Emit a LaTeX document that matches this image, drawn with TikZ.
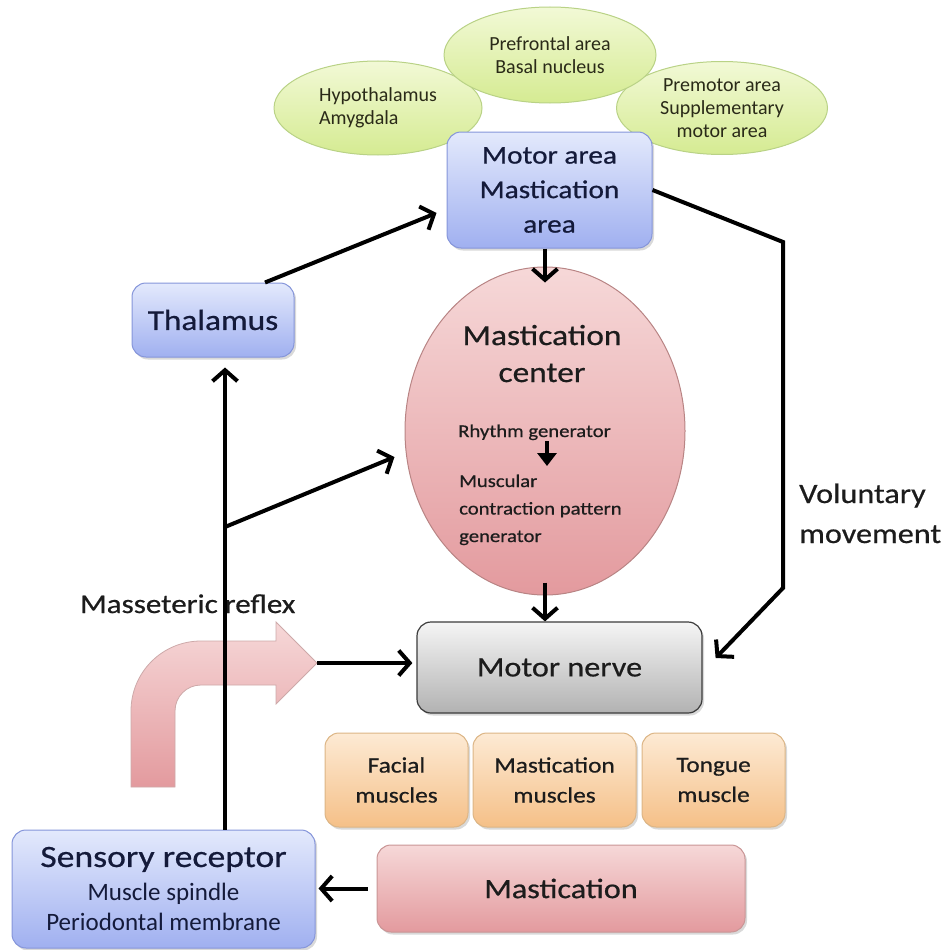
\documentclass[tikz,border=0pt]{standalone}
\usepackage{fontspec}
\setmainfont{Carlito}
\newfontfamily\wf[FakeStretch=1.15,FakeBold=0.6]{Carlito}
\usetikzlibrary{arrows.meta,shapes.geometric,shadows,calc}
\definecolor{grT}{HTML}{F2F9D6}
\definecolor{grB}{HTML}{D5EB92}
\definecolor{grD}{HTML}{B9D286}
\definecolor{blT}{HTML}{E3E9FC}
\definecolor{blB}{HTML}{A0B0F0}
\definecolor{blD}{HTML}{8595DA}
\definecolor{pkT}{HTML}{F6D8D8}
\definecolor{pkB}{HTML}{E39A9E}
\definecolor{pkD}{HTML}{B88484}
\definecolor{gyT}{HTML}{F5F5F5}
\definecolor{gyB}{HTML}{B2B2B2}
\definecolor{gyD}{HTML}{3C3C3C}
\definecolor{orT}{HTML}{FDEAD4}
\definecolor{orB}{HTML}{F5C088}
\definecolor{orD}{HTML}{DCB585}
\definecolor{mbD}{HTML}{C99595}
\definecolor{navy}{HTML}{141A3A}
\definecolor{txt}{HTML}{1C1C1C}
\definecolor{gtxt}{HTML}{2A2A18}
\begin{document}
\begin{tikzpicture}[x=1pt,y=-1pt,
  shadowed/.style={drop shadow={shadow xshift=2pt,shadow yshift=-2.5pt,opacity=0.3}},
  area/.style={ellipse,draw=grD,line width=1pt,top color=grT,bottom color=grB,inner sep=0,
    text=gtxt,font=\fontsize{20}{23}\selectfont},
  bluebox/.style={rectangle,rounded corners=14pt,draw=blD,line width=1pt,top color=blT,bottom color=blB,
    shadowed,inner sep=0,align=center,text=navy},
  musbox/.style={rectangle,rounded corners=14pt,draw=orD,line width=1pt,top color=orT,bottom color=orB,
    shadowed,inner sep=0,align=center,text=txt,font=\wf\fontsize{22}{30}\selectfont,
    minimum width=143,minimum height=94},
  lbl/.style={inner sep=0,text=txt},
  arr/.style={line width=4pt,-{Straight Barb[length=11pt,width=25pt]}}
]
\useasboundingbox (0,0) rectangle (947,950);

% top ellipses
\node[area,align=left,minimum width=208,minimum height=94] (hyp) at (378,108) {Hypothalamus\\Amygdala};
\node[area,align=center,minimum width=211,minimum height=93] (prem) at (722,108) {Premotor area\\Supplementary\\motor area};
\node[area,align=center,minimum width=212,minimum height=96] (pref) at (550,55) {Prefrontal area\\Basal nucleus};

% motor area
\node[bluebox,minimum width=205,minimum height=116,font=\wf\fontsize{25.5}{34.5}\selectfont] (motor) at (549.5,190) {Motor area\\Mastication\\area};

% thalamus
\node[bluebox,minimum width=162,minimum height=74,font=\wf\fontsize{29}{34}\selectfont] (thal) at (213,320) {Thalamus};

% mastication center
\node[ellipse,draw=pkD,line width=1pt,top color=pkT,bottom color=pkB,inner sep=0,
  minimum width=280,minimum height=328] (ctr) at (545,431) {};
\node[lbl,align=center,anchor=base,font=\wf\fontsize{29}{37}\selectfont] (ctrT) at (542,382) {Mastication\\center};
\node[lbl,anchor=base west,font=\wf\fontsize{18}{27}\selectfont] (rhy) at (458,437) {Rhythm generator};
\node[lbl,align=left,anchor=base west,font=\wf\fontsize{18}{27.5}\selectfont] (pat) at (459,542) {Muscular\\contraction pattern\\generator};

% motor nerve
\node[rectangle,rounded corners=14pt,draw=gyD,line width=1.2pt,top color=gyT,bottom color=gyB,shadowed,
  inner sep=0,text=txt,font=\wf\fontsize{28}{34}\selectfont,minimum width=285,minimum height=91] (nerve) at (559.5,667.5) {Motor nerve};

% muscles
\node[musbox] (fac) at (396.5,780) {Facial\\muscles};
\node[musbox,minimum width=163] (mmus) at (554.5,780) {Mastication\\muscles};
\node[musbox] (tong) at (713.5,780) {Tongue\\muscle};

% sensory receptor
\node[bluebox,minimum width=303,minimum height=118,font=\fontsize{25}{30}\selectfont] (sens) at (163.5,889)
  {{\wf\fontsize{31}{34}\selectfont Sensory receptor}\\[4pt]Muscle spindle\\Periodontal membrane};

% mastication
\node[rectangle,rounded corners=14pt,draw=mbD,line width=1pt,top color=pkT,bottom color=pkB,shadowed,
  inner sep=0,text=txt,font=\wf\fontsize{28}{34}\selectfont,minimum width=368,minimum height=87] (mast) at (561,888.5) {Mastication};

% labels
\node[lbl,anchor=base west,font=\wf\fontsize{27}{34}\selectfont] (mref) at (80,613) {Masseteric reflex};
\node[lbl,align=left,anchor=base west,font=\wf\fontsize{28}{40}\selectfont] (vol) at (799,543) {Voluntary\\movement};

% bent block arrow
\draw[draw=pkD!70,line width=0.8pt,top color=pkT,bottom color=pkB]
  (131,787) -- (131,711) .. controls (131,672.3) and (162.3,641) .. (201,641) -- (276,641) -- (276,622)
  -- (317,663) -- (276,704) -- (276,685) -- (201,685) .. controls (186.6,685) and (175,696.6) .. (175,711)
  -- (175,787) -- cycle;
\coordinate (bt) at (317,663);

% connectors
\coordinate (v1) at (783,242);
\coordinate (v2) at (783,588);
\coordinate (br) at (225,527);
\draw[arr] ([xshift=61.5pt]sens.north) -- ([xshift=12pt,yshift=-10pt]thal.south);
\draw[arr] (br) -- ([xshift=-10pt,yshift=-26pt]ctr.west);
\draw[arr] ([xshift=52pt]thal.north) -- ([xshift=-10pt,yshift=-23pt]motor.west);
\draw[arr] (ctr.north |- motor.south) -- ([yshift=-16pt]ctr.north);
\draw[arr] ([yshift=13pt]ctr.south) -- (ctr.south |- nerve.north);
\draw[arr] (motor.east) -- (v1) -- (v2) -- ([xshift=13pt,yshift=9.5pt]nerve.east);
\draw[arr,shorten >=4pt] (bt) -- (bt -| nerve.west);
\draw[arr] ([xshift=-9pt]mast.west) -- ([xshift=3pt]sens.east |- mast.west);
\draw[line width=4pt,-{Triangle[length=13pt,width=19pt]}] ([xshift=89pt,yshift=-4pt]rhy.base west) -- ([xshift=89pt,yshift=-29pt]rhy.base west);
\end{tikzpicture}
\end{document}
